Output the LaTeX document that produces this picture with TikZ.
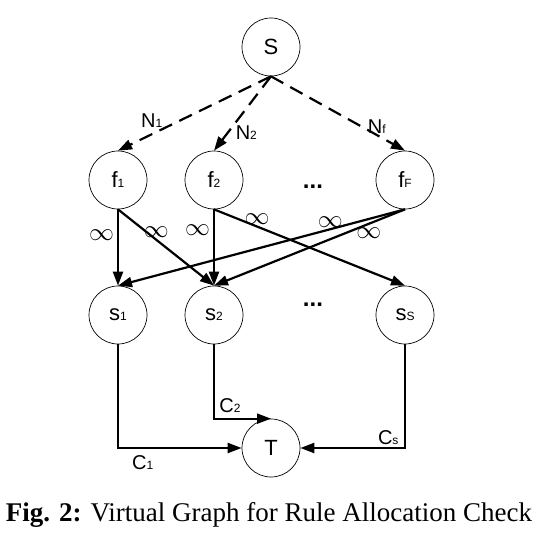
\documentclass[tikz,border=0pt]{standalone}
\usepackage{fontspec}
\setmainfont{Liberation Serif}
\newfontfamily\labelfont{Liberation Sans}
\usetikzlibrary{arrows.meta}
\usetikzlibrary{positioning}

\newcommand{\sub}[1]{{\fontsize{12}{12}\selectfont #1}}

\begin{document}
\begin{tikzpicture}[x=1pt, y=-1pt,
v/.style={circle, draw, line width=0.7pt, minimum size=58pt, inner sep=0pt, font=\labelfont\fontsize{22}{22}\selectfont},
sol/.style={line width=2.2pt, -{Triangle[length=14pt,width=10pt]}},
dsh/.style={sol, dash pattern=on 14pt off 8pt},
lab/.style={font=\labelfont\fontsize{20}{20}\selectfont, inner sep=2pt},
inf/.style={font=\fontsize{24}{24}\selectfont, inner sep=1pt}]
\useasboundingbox (0,0) rectangle (539,538);
\node[v] (S) at (271,47) {S};
\node[v] (f1) at (118,180) {f\sub{1}};
\node[v] (f2) at (214,180) {f\sub{2}};
\node[v] (fF) at (405,180) {f\sub{F}};
\node[v] (s1) at (118,315) {s\sub{1}};
\node[v] (s2) at (214,315) {s\sub{2}};
\node[v] (sS) at (405,315) {s\sub{S}};
\node[v] (T) at (271,448) {T};
\node[lab, font=\labelfont\bfseries\fontsize{24}{24}\selectfont] (fdots) at (313,187) {...};
\node[lab, font=\labelfont\bfseries\fontsize{24}{24}\selectfont] (sdots) at (313,305) {...};
% source to rules
\draw[dsh] (S.south) to node[lab, pos=0.78, above=4pt] {N\sub{1}} (f1.north);
\draw[dsh] (S.south) to node[lab, pos=0.76, right=5pt] {N\sub{2}} (f2.north);
\draw[dsh] (S.south) to node[lab, pos=0.79, above, inner sep=0pt] {N\sub{f}} (fF.north);
% rules to switches
\draw[sol] (f1.south) to node[inf, pos=0.34, left=2pt] {$\infty$} (s1.north);
\draw[sol] (f1.south) to node[inf, pos=0.4, above] {$\infty$} (s2.north);
\draw[sol] (f2.south) to node[inf, pos=0.27, left=2pt] {$\infty$} (s2.north);
\draw[sol] (f2.south) to node[inf, pos=0.225, above] {$\infty$} (sS.north);
\draw[sol] (fF.south) to node[inf, pos=0.26, above] {$\infty$} (s1.north);
\draw[sol] (fF.south) to node[inf, pos=0.19, below=2pt] {$\infty$} (s2.north);
% switches to sink
\draw[sol] (s1.south) |- node[lab, pos=0.6, below=4pt] {C\sub{1}} (T.west);
\draw[sol] (s2.south) |- node[lab, pos=0.64, above=3pt] {C\sub{2}} (T.north);
\draw[sol] (sS.south) |- node[lab, pos=0.58, above] {C\sub{s}} (T.east);
\node[font=\fontsize{27}{27}\selectfont] (cap) at (269,515) {\textbf{Fig. 2:} Virtual Graph for Rule Allocation Check};
\end{tikzpicture}
\end{document}
